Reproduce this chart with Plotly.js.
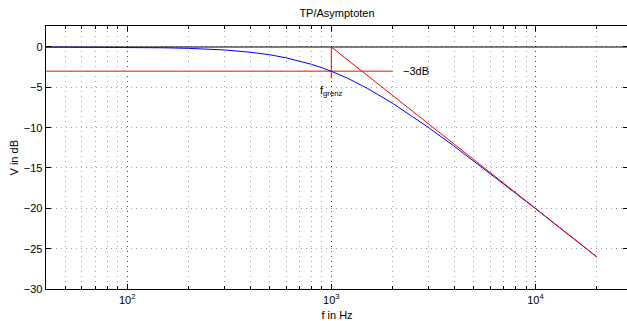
<!DOCTYPE html>
<html>
<head>
<meta charset="utf-8">
<script src="https://cdn.plot.ly/plotly-3.0.1.min.js"></script>
<style>
html,body{margin:0;padding:0;overflow:hidden;background:#fff;width:627px;height:321px;}
#chart{width:630px;height:321px;}
</style>
</head>
<body>
<div id="chart"></div>
<script>
// Frequency response (blue)
const freqHz = [40, 60, 100, 150, 200, 300, 400, 500, 600, 700, 800, 900, 1000, 1200, 1500, 2000, 2500, 3000, 4000, 5000, 6000, 7000, 8000, 10000, 12000, 15000, 20000];
const gainDb = [-0.01, -0.02, -0.04, -0.1, -0.17, -0.37, -0.65, -0.97, -1.34, -1.73, -2.15, -2.58, -3.01, -3.87, -5.12, -6.99, -8.6, -10.0, -12.3, -14.15, -15.68, -16.99, -18.13, -20.04, -21.61, -23.54, -26.03];
// Asymptote (red)
const asymF = [1000, 20000];
const asymV = [0, -26.02];
// -3 dB marker line
const m3F = [40, 2000];
const m3V = [-3, -3];
// cutoff marker
const fgF = [1000, 1000];
const fgV = [0, -3.9];
// zero line
const zeroF = [40, 40000];
const zeroV = [0, 0];
const yTicks = [0, -5, -10, -15, -20, -25, -30];
const xTicks = [100, 1000, 10000];
const xTickText = ['10<sup>2</sup>', '10<sup>3</sup>', '10<sup>4</sup>'];

const font = {family: '"Liberation Sans", Arial, Helvetica, sans-serif', size: 11, color: '#000'};

const traces = [
  {x: zeroF, y: zeroV, mode: 'lines', line: {color: '#000', width: 1.2}, hoverinfo: 'skip'},
  {x: m3F, y: m3V, mode: 'lines', line: {color: 'rgb(255,90,80)', width: 1.6}, hoverinfo: 'skip'},
  {x: fgF, y: fgV, mode: 'lines', line: {color: 'rgb(255,0,0)', width: 1}, hoverinfo: 'skip'},
  {x: freqHz, y: gainDb, mode: 'lines', line: {color: 'rgb(0,0,255)', width: 1}, hoverinfo: 'skip'},
  {x: asymF, y: asymV, mode: 'lines', line: {color: 'rgb(255,0,0)', width: 1}, hoverinfo: 'skip'}
];

const layout = {
  width: 630, height: 321,
  margin: {l: 46, r: 2, t: 26, b: 32, pad: 0},
  paper_bgcolor: '#fff', plot_bgcolor: '#fff',
  showlegend: false,
  font: font,
  title: {text: 'TP/Asymptoten', font: font, x: 0.5, xref: 'paper', xanchor: 'center', y: 1, yref: 'paper', yanchor: 'bottom', pad: {b: 9}},
  xaxis: {
    type: 'log',
    range: [Math.log10(40), 4.4537],
    tickvals: xTicks, ticktext: xTickText,
    ticks: 'inside', ticklen: 5, tickcolor: '#000', tickwidth: 1,
    showline: true, linecolor: '#000', linewidth: 1.3, mirror: 'ticks',
    showgrid: true, gridcolor: 'rgba(0,0,0,0.6)', griddash: '1px,4px', gridwidth: 1,
    minor: {dtick: 'D1', ticks: 'inside', ticklen: 3, tickcolor: '#000', showgrid: true, gridcolor: 'rgba(0,0,0,0.35)', griddash: '1px,4px', gridwidth: 1},
    zeroline: false,
    title: {text: 'f in Hz', font: font, standoff: 6},
    tickfont: font
  },
  yaxis: {
    range: [-30, 2.6],
    tickvals: yTicks,
    ticks: 'inside', ticklen: 5, tickcolor: '#000', tickwidth: 1,
    showline: true, linecolor: '#000', linewidth: 1.3, mirror: 'ticks',
    showgrid: true, gridcolor: 'rgba(0,0,0,0.4)', griddash: '1px,4px', gridwidth: 1,
    zeroline: false,
    title: {text: ''},
    tickfont: font
  },
  annotations: [
    {x: -0.055, y: 0.5, xref: 'paper', yref: 'paper', text: 'V in dB', textangle: -90, showarrow: false, xanchor: 'center', yanchor: 'middle', font: font},
    {x: Math.log10(2205), y: -3, xref: 'x', yref: 'y', text: '−3dB', showarrow: false, xanchor: 'left', yanchor: 'middle', font: font},
    {x: Math.log10(865), y: -5.4, xref: 'x', yref: 'y', text: 'f<sub>grenz</sub>', showarrow: false, xanchor: 'left', yanchor: 'middle', font: font}
  ]
};

Plotly.newPlot('chart', traces, layout, {displayModeBar: false, staticPlot: true});
</script>
</body>
</html>
